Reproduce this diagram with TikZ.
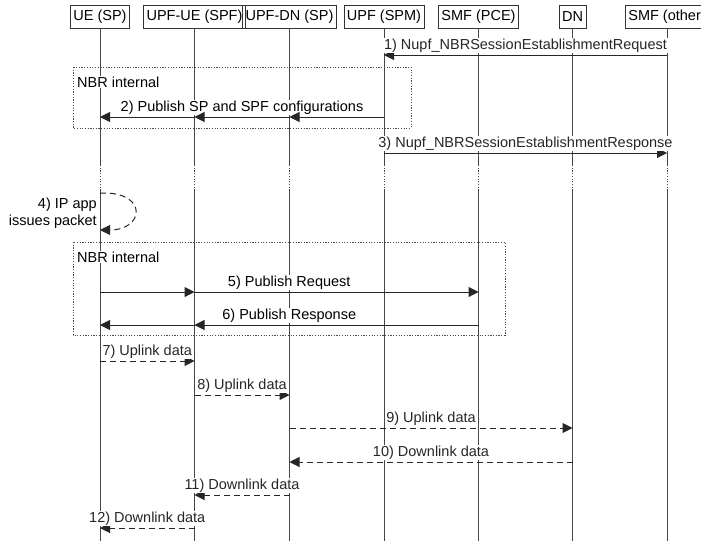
\documentclass[tikz,border=0pt]{standalone}
\usepackage{fontspec}
\setmainfont{Liberation Sans}
\usetikzlibrary{arrows.meta, positioning, calc}

\tikzset{
  actor/.style={draw=black!80, line width=0.8pt, inner xsep=3pt, inner ysep=0pt,
    minimum height=23pt, font=\fontsize{14.5}{17}\selectfont},
  life/.style={black!72, line width=1pt},
  msg/.style={black!85, line width=1pt, -{Triangle[length=10pt,width=10pt]}},
  dmsg/.style={msg, dash pattern=on 6pt off 4pt},
  lbl/.style={fill=white, inner sep=0.8pt, anchor=base, yshift=5.5pt,
    font=\fontsize{14.5}{17}\selectfont},
  group/.style={black!70, line width=0.8pt, dash pattern=on 1.2pt off 1.5pt},
}

\begin{document}
\begin{tikzpicture}[x=1pt, y=-1pt]
  \useasboundingbox (0,0) rectangle (701,541);

  % Participants
  \node[actor] (ue) at (100,16.5) {UE (SP)};
  \node[actor] (upfue) at (194.5,16.5) {UPF-UE (SPF)};
  \node[actor] (upfdn) at (289.5,16.5) {UPF-DN (SP)};
  \node[actor] (spm) at (384,16.5) {UPF (SPM)};
  \node[actor] (pce) at (478.5,16.5) {SMF (PCE)};
  \node[actor] (dn) at (572.5,16.5) {DN};
  \node[actor] (other) at (667,16.5) {SMF (other)};

  % Rows
  \coordinate (brk1) at (0,165);
  \coordinate (brk2) at (0,190);
  \coordinate (bot) at (0,541);
  \coordinate (m1) at (0,55);
  \coordinate (m2) at (0,117);
  \coordinate (m3) at (0,153);
  \coordinate (m4a) at (0,193);
  \coordinate (m4b) at (0,230);
  \coordinate (m5) at (0,292);
  \coordinate (m6) at (0,325);
  \coordinate (m7) at (0,361);
  \coordinate (m8) at (0,395);
  \coordinate (m9) at (0,428);
  \coordinate (m10) at (0,462);
  \coordinate (m11) at (0,495);
  \coordinate (m12) at (0,528);

  % Lifelines
  \foreach \n in {ue,upfue,upfdn,spm,pce,dn,other} {
    \draw[life] (\n.south) -- (\n |- brk1);
    \draw[life, dash pattern=on 1.2pt off 1.5pt] (\n |- brk1) -- (\n |- brk2);
    \draw[life] (\n |- brk2) -- (\n |- bot);
  }

  % Groups
  \draw[group] (73,67) rectangle (411,128);
  \node[fill=white, inner sep=1pt, anchor=west, font=\fontsize{14.5}{17}\selectfont]
    (grp1) at (76,82) {NBR internal};
  \draw[group] (73,242) rectangle (505,335);
  \node[fill=white, inner sep=1pt, anchor=west, font=\fontsize{14.5}{17}\selectfont]
    (grp2) at (76,257) {NBR internal};

  % 1-3
  \draw[msg] (other |- m1) -- node[lbl] {1) Nupf\_NBRSessionEstablishmentRequest} (spm |- m1);
  \path (spm |- m2) -- node[lbl] {2) Publish SP and SPF configurations} (ue |- m2);
  \draw[msg] (spm |- m2) -- (upfdn |- m2);
  \draw[msg] (upfdn |- m2) -- (upfue |- m2);
  \draw[msg] (upfue |- m2) -- (ue |- m2);
  \draw[msg] (spm |- m3) -- node[lbl] {3) Nupf\_NBRSessionEstablishmentResponse} (other |- m3);

  % 4
  \draw[dmsg] (ue |- m4a) -- ++(4,0) .. controls +(44,0) and +(44,0) .. (ue |- m4b);
  \node[anchor=east, align=right, inner sep=0pt, font=\fontsize{14.5}{17}\selectfont]
    (ipapp) at (97,213) {4) IP app\\issues packet};

  % 5-6
  \path (ue |- m5) -- node[lbl] {5) Publish Request} (pce |- m5);
  \draw[msg] (ue |- m5) -- (upfue |- m5);
  \draw[msg] (upfue |- m5) -- (pce |- m5);
  \path (pce |- m6) -- node[lbl] {6) Publish Response} (ue |- m6);
  \draw[msg] (pce |- m6) -- (upfue |- m6);
  \draw[msg] (upfue |- m6) -- (ue |- m6);

  % 7-12
  \draw[dmsg] (ue |- m7) -- node[lbl] {7) Uplink data} (upfue |- m7);
  \draw[dmsg] (upfue |- m8) -- node[lbl] {8) Uplink data} (upfdn |- m8);
  \draw[dmsg] (upfdn |- m9) -- node[lbl] {9) Uplink data} (dn |- m9);
  \draw[dmsg] (dn |- m10) -- node[lbl] {10) Downlink data} (upfdn |- m10);
  \draw[dmsg] (upfdn |- m11) -- node[lbl] {11) Downlink data} (upfue |- m11);
  \draw[dmsg] (upfue |- m12) -- node[lbl] {12) Downlink data} (ue |- m12);
\end{tikzpicture}
\end{document}
